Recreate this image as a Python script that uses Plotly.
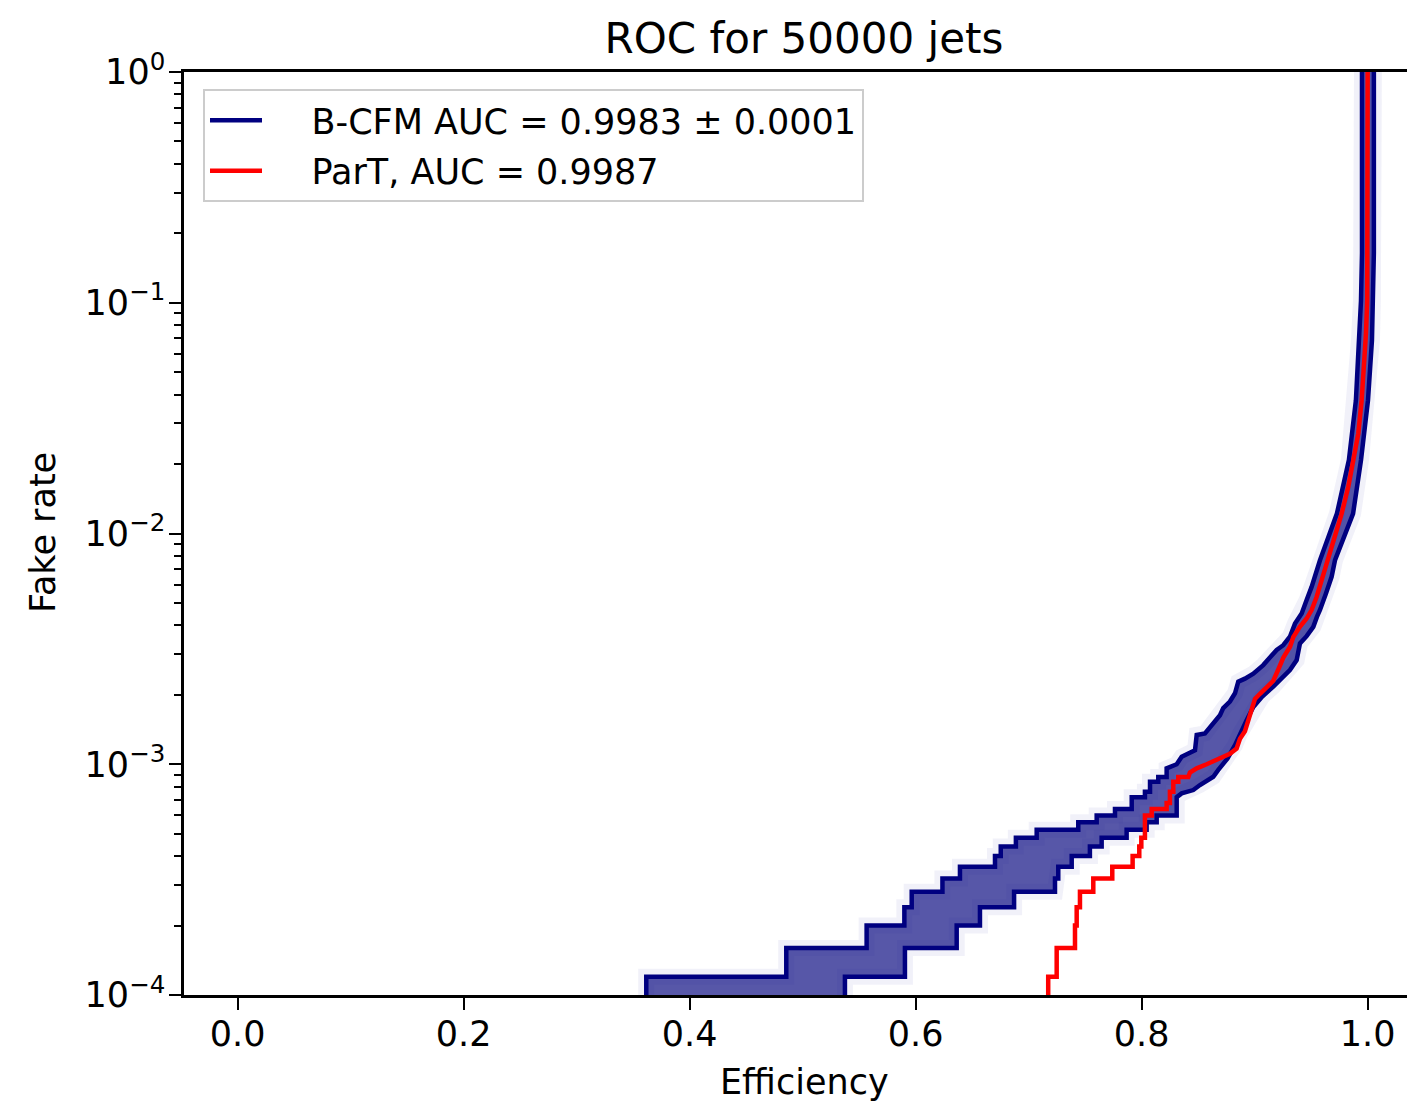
import plotly.graph_objects as go

# ---------------- data (efficiency, fake rate) ----------------
# ParT: stepped low-fake-rate part (efficiency where fake rate rises, level after rise)
part_step_eff = [0.7173, 0.7173, 0.7248, 0.7410, 0.7425, 0.7454, 0.7572, 0.7740,
                 0.7920, 0.7979, 0.7997, 0.8029, 0.8089, 0.8221, 0.8250, 0.8280, 0.8324]
part_step_fpr = [8e-5, 1.2e-4, 1.6e-4, 2.0e-4, 2.4e-4, 2.8e-4, 3.2e-4, 3.6e-4,
                 4.0e-4, 4.4e-4, 4.8e-4, 6.0e-4, 6.4e-4, 6.8e-4, 7.6e-4, 8.4e-4, 8.8e-4]
# ParT: upper, nearly continuous part
part_eff = [0.8413, 0.8427, 0.8487, 0.8545, 0.8575, 0.8634, 0.8693, 0.8781, 0.8840,
            0.8870, 0.8914, 0.8944, 0.8974, 0.9003, 0.9047, 0.9106, 0.9165, 0.9210,
            0.9254, 0.9313, 0.9342, 0.9400, 0.9460, 0.9504, 0.9548, 0.9593, 0.9630,
            0.9696, 0.9770, 0.9828, 0.9873, 0.9917, 0.9947, 0.9967, 0.9985, 0.9996,
            0.9998, 1.0]
part_fpr = [8.8e-4, 9.2e-4, 9.6e-4, 9.8e-4, 1.0e-3, 1.03e-3, 1.06e-3, 1.11e-3, 1.17e-3,
            1.29e-3, 1.39e-3, 1.56e-3, 1.77e-3, 1.92e-3, 2.02e-3, 2.15e-3, 2.30e-3, 2.58e-3,
            2.90e-3, 3.23e-3, 3.56e-3, 3.94e-3, 4.28e-3, 4.66e-3, 5.31e-3, 6.28e-3, 7.2e-3,
            9.35e-3, 1.22e-2, 1.59e-2, 2.08e-2, 2.71e-2, 3.78e-2, 5.27e-2, 7.35e-2, 0.102,
            0.277, 1.0]

# B-CFM ensemble: upper (left) envelope
bcfm_hi_step_eff = [0.3616, 0.3616, 0.4855, 0.5566, 0.5900, 0.5965, 0.6237, 0.6392,
                    0.6702, 0.6753, 0.6887, 0.7071, 0.7439, 0.7602, 0.7764, 0.7912,
                    0.8029, 0.8074, 0.8147, 0.8221]
bcfm_hi_step_fpr = [8e-5, 1.2e-4, 1.6e-4, 2.0e-4, 2.4e-4, 2.8e-4, 3.2e-4, 3.6e-4,
                    4.0e-4, 4.4e-4, 4.8e-4, 5.2e-4, 5.6e-4, 6.0e-4, 6.4e-4, 7.2e-4,
                    7.6e-4, 8.4e-4, 8.8e-4, 9.6e-4]
bcfm_hi_eff = [0.8310, 0.8354, 0.8472, 0.8487, 0.8560, 0.8604, 0.8693, 0.8722, 0.8781,
               0.8826, 0.8855, 0.8914, 0.8988, 0.9076, 0.9135, 0.9195, 0.9253, 0.9312,
               0.9357, 0.9416, 0.9460, 0.9504, 0.9578, 0.9728, 0.9834, 0.9896, 0.9923,
               0.9941, 0.9950, 0.9950, 0.9950]
bcfm_hi_fpr = [1.0e-3, 1.077e-3, 1.15e-3, 1.34e-3, 1.36e-3, 1.45e-3, 1.63e-3, 1.75e-3, 1.87e-3,
               2.03e-3, 2.28e-3, 2.35e-3, 2.47e-3, 2.69e-3, 2.88e-3, 3.13e-3, 3.28e-3, 3.57e-3,
               4.07e-3, 4.50e-3, 5.15e-3, 5.87e-3, 7.66e-3, 1.22e-2, 2.08e-2, 3.78e-2, 6.87e-2,
               0.102, 0.164, 0.457, 1.0]

# B-CFM ensemble: lower (right) envelope
bcfm_lo_step_eff = [0.5374, 0.5374, 0.5905, 0.6363, 0.6569, 0.6871, 0.7233, 0.7262,
                    0.7381, 0.7542, 0.7646, 0.7867, 0.8044, 0.8133, 0.8310]
bcfm_lo_step_fpr = [8e-5, 1.2e-4, 1.6e-4, 2.0e-4, 2.4e-4, 2.8e-4, 3.2e-4, 3.6e-4,
                    4.0e-4, 4.4e-4, 4.8e-4, 5.2e-4, 5.6e-4, 6.0e-4, 7.2e-4]
bcfm_lo_eff = [0.8354, 0.8457, 0.8516, 0.8634, 0.8678, 0.8760, 0.8826, 0.8870, 0.8929,
               0.8988, 0.9065, 0.9165, 0.9250, 0.9312, 0.9372, 0.9401, 0.9460, 0.9519,
               0.9551, 0.9578, 0.9631, 0.9681, 0.9711, 0.9871, 0.9941, 1.0003, 1.0038,
               1.0046, 1.0055, 1.0055]
bcfm_lo_fpr = [7.48e-4, 7.73e-4, 8.13e-4, 8.83e-4, 9.45e-4, 1.06e-3, 1.21e-3, 1.36e-3, 1.55e-3,
               1.77e-3, 1.96e-3, 2.17e-3, 2.41e-3, 2.56e-3, 2.83e-3, 3.34e-3, 3.59e-3, 3.94e-3,
               4.35e-3, 4.66e-3, 5.5e-3, 6.49e-3, 7.66e-3, 1.22e-2, 2.08e-2, 3.78e-2, 6.87e-2,
               0.102, 0.164, 1.0]

x_ticks = [0.0, 0.2, 0.4, 0.6, 0.8, 1.0]
y_ticks = [1e-4, 1e-3, 1e-2, 1e-1, 1.0]
y_ticktext = ["10<sup>−4</sup>", "10<sup>−3</sup>", "10<sup>−2</sup>", "10<sup>−1</sup>", "10<sup>0</sup>"]

label_bcfm = "B-CFM AUC = 0.9983 ± 0.0001"
label_part = "ParT, AUC = 0.9987"


def staircase(xs, ys):
    px, py = [xs[0]], [ys[0]]
    for i in range(1, len(xs)):
        px += [xs[i], xs[i]]
        py += [ys[i - 1], ys[i]]
    return px, py


hx, hy = staircase(bcfm_hi_step_eff, bcfm_hi_step_fpr)
hx += bcfm_hi_eff
hy += bcfm_hi_fpr
lx, ly = staircase(bcfm_lo_step_eff, bcfm_lo_step_fpr)
lx += bcfm_lo_eff
ly += bcfm_lo_fpr
rx, ry = staircase(part_step_eff, part_step_fpr)
rx += part_eff
ry += part_fpr

NAVY = "#000080"
PAD = "\u00a0" * 4

# page body adds an 8px margin; figure sized so the screenshot matches
W, H = 1407, 1095
L, R, T, B = 176, 0, 64, 108
PW, PH = W - L - R, H - T - B

fig = go.Figure()
# faint halo around the ensemble
for xs, ys in ((hx, hy), (lx, ly)):
    fig.add_trace(go.Scatter(x=xs, y=ys, mode="lines",
                             line=dict(color="rgba(60,60,170,0.07)", width=16),
                             showlegend=False, hoverinfo="skip"))
# ensemble band
fig.add_trace(go.Scatter(x=hx + lx[::-1], y=hy + ly[::-1], mode="lines", fill="toself",
                         fillcolor="rgba(22,22,135,0.72)", line=dict(width=0),
                         showlegend=False, hoverinfo="skip"))
fig.add_trace(go.Scatter(x=lx, y=ly, mode="lines", line=dict(color=NAVY, width=4.5),
                         showlegend=False))
fig.add_trace(go.Scatter(x=hx, y=hy, mode="lines", line=dict(color=NAVY, width=4.5),
                         name=PAD + label_bcfm, legendgroup="a"))
fig.add_trace(go.Scatter(x=rx, y=ry, mode="lines", line=dict(color="red", width=4.5),
                         name=PAD + label_part, legendgroup="b"))

minor_vals = [m * 10.0 ** e for e in range(-4, 0) for m in range(2, 10)]

fig.update_layout(
    width=W, height=H,
    margin=dict(l=L, r=R, t=T, b=B),
    plot_bgcolor="white", paper_bgcolor="white",
    font=dict(family="DejaVu Sans", size=35, color="black"),
    title=dict(text="ROC for 50000 jets", font=dict(size=42), x=(804 - 8) / W, xref="container",
               xanchor="center", y=1 - (38 - 8) / H, yref="container", yanchor="middle"),
    xaxis=dict(range=[-0.0475, 1.0419], tickvals=x_ticks, tickformat=".1f",
               ticks="outside", ticklen=12, tickwidth=2, tickcolor="black",
               ticklabelstandoff=-6,
               showline=True, linewidth=2.5, linecolor="black", mirror=True,
               showgrid=False, zeroline=False),
    yaxis=dict(type="log", range=[-4, 0], tickvals=y_ticks, ticktext=y_ticktext,
               ticks="outside", ticklen=12, tickwidth=2, tickcolor="black",
               ticklabelstandoff=-3,
               minor=dict(tickvals=minor_vals, ticks="outside", ticklen=7, tickwidth=1.5,
                          tickcolor="black", showgrid=False),
               showline=True, linewidth=2.5, linecolor="black", mirror=False,
               showgrid=False, zeroline=False),
    legend=dict(x=(203 - 184) / PW, y=(995 - 89) / PH, xanchor="left", yanchor="top",
                bgcolor="rgba(255,255,255,0.8)", bordercolor="#cccccc", borderwidth=2,
                font=dict(size=35), traceorder="grouped", tracegroupgap=2, itemwidth=52),
    annotations=[
        dict(text="Efficiency", x=(804 - 184) / PW, y=-(1082 - 995) / PH, xref="paper",
             yref="paper", showarrow=False, xanchor="center", yanchor="middle",
             font=dict(size=35)),
        dict(text="Fake rate", x=(43 - 184) / PW, y=(995 - 533) / PH, xref="paper",
             yref="paper", showarrow=False, xanchor="center", yanchor="middle",
             textangle=-90, font=dict(size=35)),
    ],
)

fig.write_html("out.html")
